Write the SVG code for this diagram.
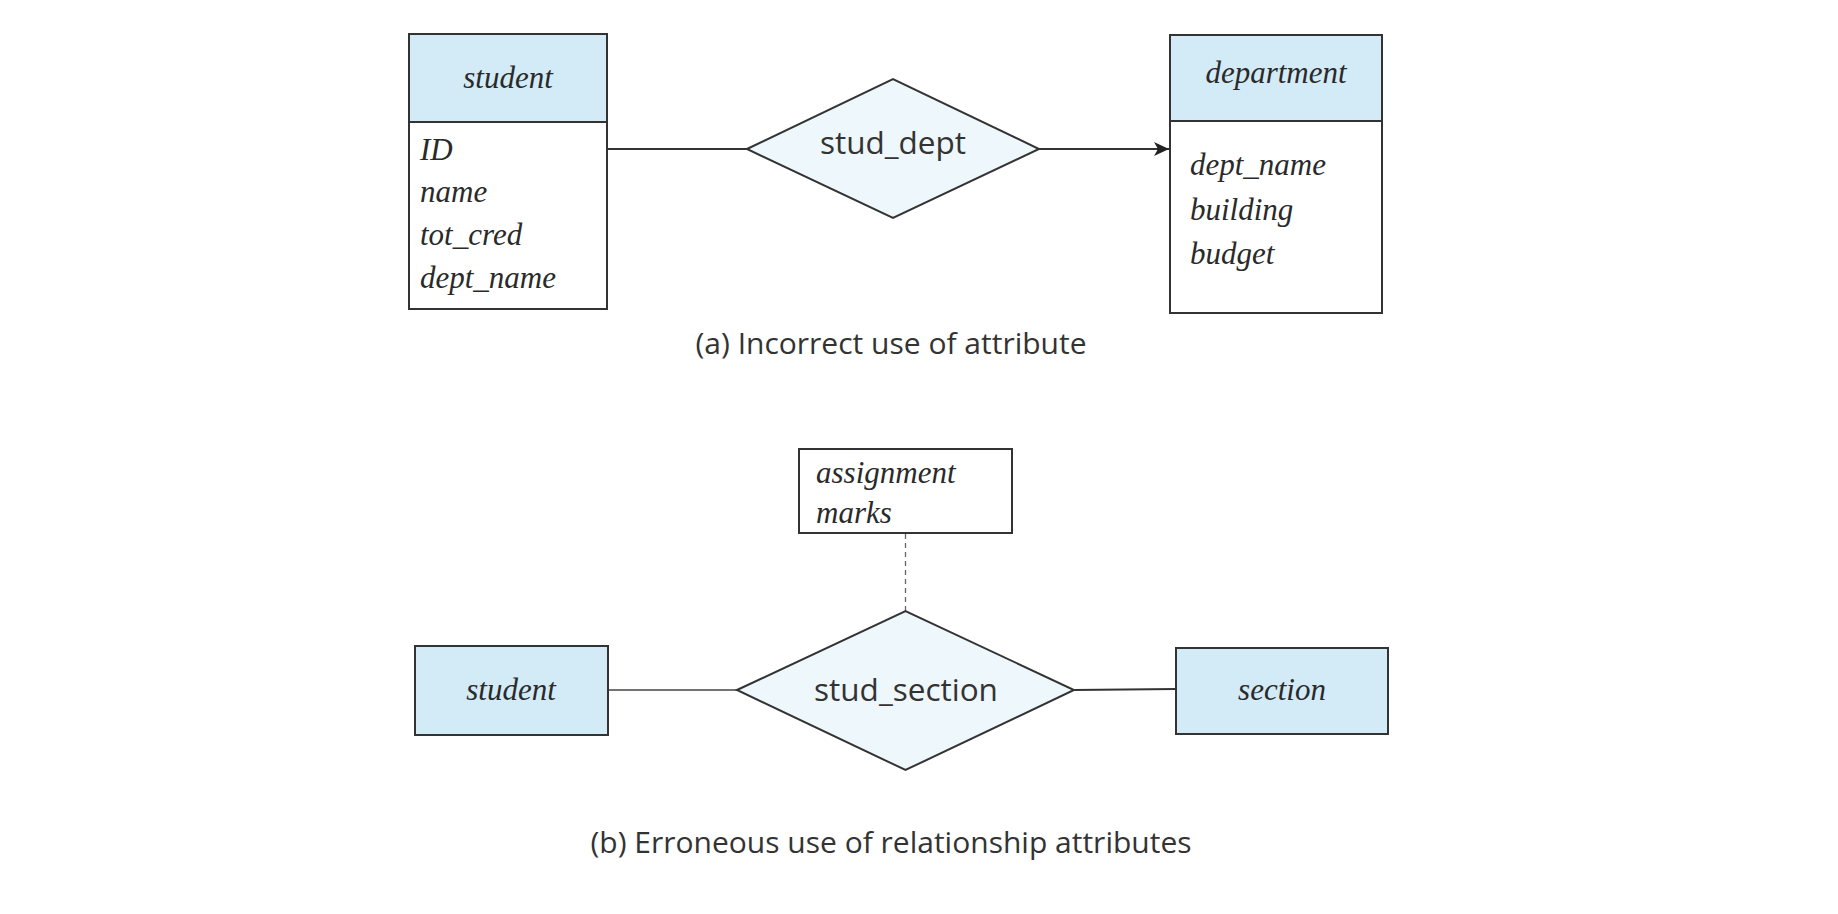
<svg xmlns="http://www.w3.org/2000/svg" width="1838" height="914" viewBox="0 0 1838 914">
<style>
.ent{fill:#d3eaf7;stroke:#333;stroke-width:2}
.box{fill:#fff;stroke:#333;stroke-width:2}
.rel{fill:#edf7fc;stroke:#333;stroke-width:2}
.conn{stroke:#333;stroke-width:2;fill:none}
.thin{stroke:#444;stroke-width:1.3;fill:none}
.dash{stroke:#666;stroke-width:1.3;fill:none;stroke-dasharray:5,4}
.it{font-family:"Liberation Serif",serif;font-style:italic;font-size:31px;fill:#2a2a2a}
.rl{font-family:"Open Sans",Lato,sans-serif;font-size:31.5px;fill:#333}
.cap{font-family:"Open Sans",Lato,sans-serif;font-size:30px;fill:#333}
</style>
<defs>
<marker id="arr" markerWidth="16" markerHeight="14" refX="15" refY="7" orient="auto" markerUnits="userSpaceOnUse">
<path d="M0,0 L15,7 L0,14 L4,7 Z" fill="#222"/>
</marker>
</defs>
<rect width="1838" height="914" fill="#fff"/>
<g id="connectors">
<line class="conn" x1="608" y1="149" x2="747" y2="149"/>
<line class="conn" x1="1039" y1="149" x2="1169" y2="149" marker-end="url(#arr)"/>
<line class="dash" x1="905.5" y1="534" x2="905.5" y2="611"/>
<line class="thin" x1="608" y1="690" x2="737" y2="690"/>
<line class="conn" x1="1074" y1="690" x2="1176" y2="689"/>
</g>
<g id="student_a">
<rect class="ent" x="409" y="34" width="198" height="88"/>
<rect class="box" x="409" y="122" width="198" height="187"/>
<text class="it" x="508" y="88" text-anchor="middle">student</text>
<text class="it" x="420" y="160">ID</text>
<text class="it" x="420" y="202">name</text>
<text class="it" x="420" y="245">tot_cred</text>
<text class="it" x="420" y="288">dept_name</text>
</g>
<g id="stud_dept">
<polygon class="rel" points="747,149 893,79 1039,149 893,218"/>
<text class="rl" x="893" y="154" text-anchor="middle">stud_dept</text>
</g>
<g id="department">
<rect class="ent" x="1170" y="35" width="212" height="86"/>
<rect class="box" x="1170" y="121" width="212" height="192"/>
<text class="it" x="1276" y="83" text-anchor="middle">department</text>
<text class="it" x="1190" y="175">dept_name</text>
<text class="it" x="1190" y="220">building</text>
<text class="it" x="1190" y="264">budget</text>
</g>
<text class="cap" x="891" y="354" text-anchor="middle">(a) Incorrect use of attribute</text>
<g id="rel_attrs">
<rect class="box" x="799" y="449" width="213" height="84"/>
<text class="it" x="816" y="483">assignment</text>
<text class="it" x="816" y="523">marks</text>
</g>
<g id="student_b">
<rect class="ent" x="415" y="646" width="193" height="89"/>
<text class="it" x="511" y="700" text-anchor="middle">student</text>
</g>
<g id="stud_section">
<polygon class="rel" points="737,690 905.5,611 1074,690 905.5,770"/>
<text class="rl" x="906" y="701" text-anchor="middle">stud_section</text>
</g>
<g id="section">
<rect class="ent" x="1176" y="648" width="212" height="86"/>
<text class="it" x="1282" y="700" text-anchor="middle">section</text>
</g>
<text class="cap" x="891" y="853" text-anchor="middle">(b) Erroneous use of relationship attributes</text>
</svg>
